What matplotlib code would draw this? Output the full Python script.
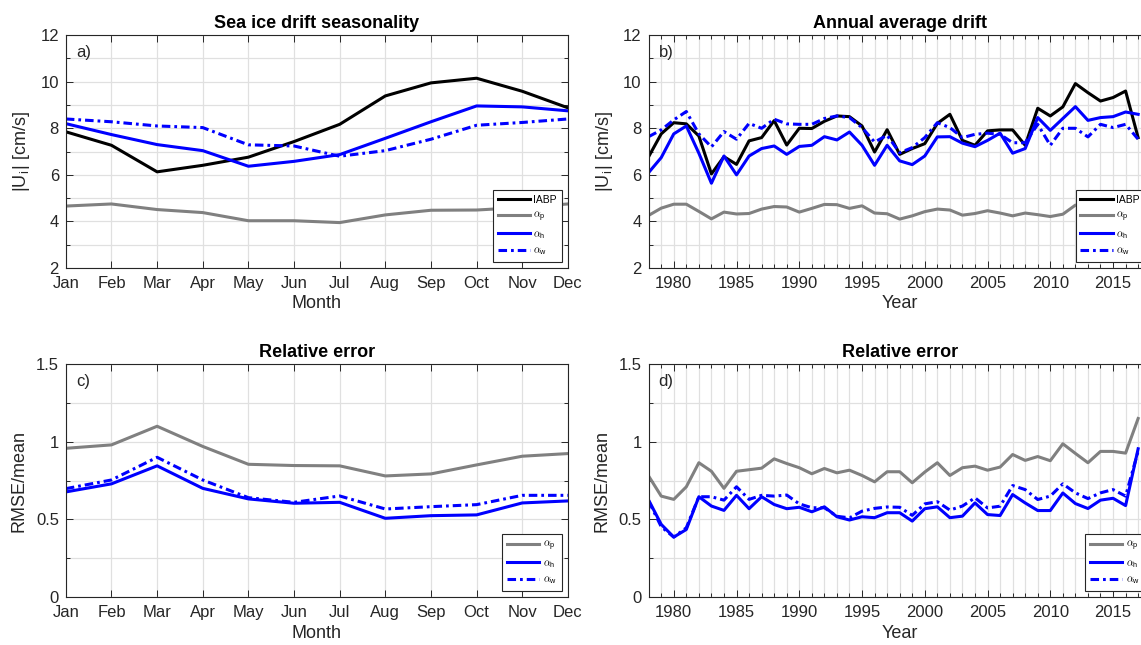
import numpy as np
import matplotlib
matplotlib.use("Agg")
import matplotlib.pyplot as plt
from matplotlib.ticker import MultipleLocator

# monthly climatology (panel a / c)
months = ["Jan", "Feb", "Mar", "Apr", "May", "Jun", "Jul", "Aug", "Sep", "Oct", "Nov", "Dec"]
mon_iabp = [7.85, 7.27, 6.13, 6.41, 6.76, 7.43, 8.17, 9.39, 9.95, 10.15, 9.59, 8.88]
mon_ap = [4.66, 4.75, 4.51, 4.38, 4.03, 4.03, 3.95, 4.28, 4.48, 4.49, 4.60, 4.75]
mon_ah = [8.20, 7.73, 7.30, 7.04, 6.37, 6.58, 6.87, 7.57, 8.28, 8.96, 8.92, 8.75]
mon_aw = [8.40, 8.28, 8.10, 8.03, 7.29, 7.24, 6.80, 7.04, 7.53, 8.13, 8.25, 8.40]

err_mon_ap = [0.958, 0.980, 1.100, 0.970, 0.855, 0.847, 0.845, 0.780, 0.793, 0.851, 0.907, 0.924]
err_mon_ah = [0.677, 0.729, 0.845, 0.700, 0.632, 0.604, 0.610, 0.507, 0.524, 0.529, 0.606, 0.619]
err_mon_aw = [0.698, 0.754, 0.900, 0.754, 0.640, 0.610, 0.651, 0.567, 0.582, 0.595, 0.655, 0.655]

# annual means 1978-2017 (panel b / d)
years = np.arange(1978, 2018)
yr_iabp = [6.78, 7.76, 8.24, 8.19, 7.67, 6.04, 6.78, 6.45, 7.46, 7.60,
           8.33, 7.28, 8.00, 7.99, 8.30, 8.53, 8.50, 8.10, 6.98, 7.94,
           6.88, 7.13, 7.34, 8.21, 8.60, 7.48, 7.27, 7.89, 7.93, 7.93,
           7.27, 8.86, 8.53, 8.92, 9.92, 9.53, 9.17, 9.32, 9.60, 7.60]
yr_ap = [4.26, 4.57, 4.74, 4.74, 4.43, 4.11, 4.40, 4.32, 4.34, 4.53,
         4.64, 4.62, 4.40, 4.56, 4.73, 4.72, 4.56, 4.67, 4.36, 4.33,
         4.10, 4.24, 4.42, 4.53, 4.49, 4.27, 4.34, 4.46, 4.36, 4.24,
         4.36, 4.29, 4.21, 4.31, 4.70, 4.60, 4.55, 4.50, 4.60, 4.55]
yr_ah = [6.10, 6.74, 7.76, 8.10, 6.93, 5.64, 6.81, 6.00, 6.81, 7.13,
         7.24, 6.88, 7.22, 7.27, 7.64, 7.50, 7.84, 7.27, 6.41, 7.27,
         6.60, 6.44, 6.81, 7.63, 7.64, 7.36, 7.21, 7.48, 7.79, 6.93,
         7.13, 8.46, 7.91, 8.42, 8.93, 8.34, 8.46, 8.50, 8.70, 8.60]
yr_aw = [7.64, 7.93, 8.36, 8.72, 7.76, 7.20, 7.86, 7.53, 8.21, 8.00,
         8.39, 8.19, 8.17, 8.17, 8.42, 8.53, 8.46, 8.03, 7.41, 7.70,
         6.95, 7.17, 7.60, 8.24, 8.03, 7.60, 7.74, 7.79, 7.74, 7.38,
         7.38, 8.17, 7.27, 8.00, 8.00, 7.63, 8.17, 8.03, 8.17, 7.53]

err_yr_ap = [0.779, 0.650, 0.629, 0.710, 0.865, 0.810, 0.700, 0.810, 0.820, 0.830,
             0.890, 0.860, 0.833, 0.794, 0.828, 0.800, 0.817, 0.783, 0.742, 0.807,
             0.807, 0.736, 0.805, 0.865, 0.783, 0.833, 0.843, 0.817, 0.837, 0.918,
             0.880, 0.905, 0.878, 0.987, 0.925, 0.865, 0.938, 0.938, 0.927, 1.150]
err_yr_ah = [0.624, 0.468, 0.386, 0.435, 0.646, 0.586, 0.558, 0.655, 0.569, 0.646,
             0.596, 0.569, 0.578, 0.549, 0.581, 0.517, 0.496, 0.517, 0.511, 0.543,
             0.543, 0.489, 0.569, 0.581, 0.511, 0.521, 0.606, 0.531, 0.525, 0.660,
             0.606, 0.557, 0.557, 0.670, 0.602, 0.570, 0.624, 0.636, 0.589, 0.955]
err_yr_aw = [0.618, 0.453, 0.386, 0.446, 0.646, 0.646, 0.624, 0.710, 0.629, 0.655,
             0.650, 0.657, 0.600, 0.575, 0.575, 0.520, 0.510, 0.553, 0.571, 0.580,
             0.578, 0.526, 0.600, 0.614, 0.560, 0.586, 0.639, 0.574, 0.585, 0.718,
             0.692, 0.628, 0.650, 0.729, 0.671, 0.634, 0.671, 0.692, 0.650, 0.940]

AX_COL = "#262626"
GRID_COL = "#e0e0e0"
GRAY = "#808080"
DASHDOT = (0, (2.8, 1.3, 0.9, 1.3))
LW = 2.2


def style_axes(ax, panel):
    ax.set_axisbelow(True)
    ax.grid(True, which="both", color=GRID_COL, linewidth=0.9)
    ax.tick_params(which="both", direction="in", top=True, right=True,
                   colors=AX_COL, labelsize=12)
    ax.tick_params(axis="x", which="both", pad=6)
    ax.tick_params(axis="y", which="both", pad=5)
    ax.tick_params(which="major", length=5, width=0.7)
    ax.tick_params(which="minor", length=3, width=0.7)
    for s in ax.spines.values():
        s.set_color(AX_COL)
        s.set_linewidth(0.8)
    ax.text(0.02, 0.925, panel, transform=ax.transAxes, fontsize=12,
            color=AX_COL, va="center", ha="left")


def add_legend(ax):
    leg = ax.legend(loc="lower right", fontsize=7.5, handlelength=3.1,
                    handletextpad=0.35, labelspacing=0.45, borderpad=0.45,
                    borderaxespad=0.6, fancybox=False, framealpha=1,
                    edgecolor=AX_COL)
    leg.get_frame().set_linewidth(0.8)


def main():
    plt.rcParams["font.family"] = ["Liberation Sans", "DejaVu Sans"]
    plt.rcParams["mathtext.fontset"] = "cm"

    fig = plt.figure(figsize=(11.41, 6.45), dpi=100)
    w, h = 0.44, 0.361
    ax_a = fig.add_axes([0.0577, 0.5845, w, h])
    ax_b = fig.add_axes([0.5685, 0.5845, w, h])
    ax_c = fig.add_axes([0.0577, 0.0744, w, h])
    ax_d = fig.add_axes([0.5685, 0.0744, w, h])

    mon = np.arange(1, 13)
    lab_p = r"$\alpha_\mathregular{p}$"
    lab_h = r"$\alpha_\mathregular{h}$"
    lab_w = r"$\alpha_\mathregular{w}$"
    ylab_u = r"|U$_\mathregular{i}$| [cm/s]"

    # a) seasonality
    ax = ax_a
    ax.plot(mon, mon_iabp, color="k", lw=LW, label="IABP")
    ax.plot(mon, mon_ap, color=GRAY, lw=LW, label=lab_p)
    ax.plot(mon, mon_ah, color="b", lw=LW, label=lab_h)
    ax.plot(mon, mon_aw, color="b", lw=LW, linestyle=DASHDOT, label=lab_w)
    ax.set_xlim(1, 12)
    ax.set_ylim(2, 12)
    ax.set_xticks(mon)
    ax.set_xticklabels(months)
    ax.yaxis.set_major_locator(MultipleLocator(2))
    ax.yaxis.set_minor_locator(MultipleLocator(1))
    ax.set_title("Sea ice drift seasonality", fontsize=13, fontweight="bold", pad=5)
    ax.set_xlabel("Month", fontsize=13, color=AX_COL, labelpad=3)
    ax.set_ylabel(ylab_u, fontsize=13, color=AX_COL, labelpad=6)
    style_axes(ax, "a)")
    add_legend(ax)

    # b) annual
    ax = ax_b
    ax.plot(years, yr_iabp, color="k", lw=LW, label="IABP")
    ax.plot(years, yr_ap, color=GRAY, lw=LW, label=lab_p)
    ax.plot(years, yr_ah, color="b", lw=LW, label=lab_h)
    ax.plot(years, yr_aw, color="b", lw=LW, linestyle=DASHDOT, label=lab_w)
    ax.set_xlim(1978, 2018)
    ax.set_ylim(2, 12)
    ax.xaxis.set_major_locator(MultipleLocator(5))
    ax.xaxis.set_minor_locator(MultipleLocator(1))
    ax.yaxis.set_major_locator(MultipleLocator(2))
    ax.yaxis.set_minor_locator(MultipleLocator(1))
    ax.set_title("Annual average drift", fontsize=13, fontweight="bold", pad=5)
    ax.set_xlabel("Year", fontsize=13, color=AX_COL, labelpad=3)
    ax.set_ylabel(ylab_u, fontsize=13, color=AX_COL, labelpad=6)
    style_axes(ax, "b)")
    add_legend(ax)

    # c) monthly error
    ax = ax_c
    ax.plot(mon, err_mon_ap, color=GRAY, lw=LW, label=lab_p)
    ax.plot(mon, err_mon_ah, color="b", lw=LW, label=lab_h)
    ax.plot(mon, err_mon_aw, color="b", lw=LW, linestyle=DASHDOT, label=lab_w)
    ax.set_xlim(1, 12)
    ax.set_ylim(0, 1.5)
    ax.set_xticks(mon)
    ax.set_xticklabels(months)
    ax.set_yticks([0, 0.5, 1, 1.5])
    ax.set_yticklabels(["0", "0.5", "1", "1.5"])
    ax.yaxis.set_minor_locator(MultipleLocator(0.25))
    ax.set_title("Relative error", fontsize=13, fontweight="bold", pad=5)
    ax.set_xlabel("Month", fontsize=13, color=AX_COL, labelpad=3)
    ax.set_ylabel("RMSE/mean", fontsize=13, color=AX_COL, labelpad=6)
    style_axes(ax, "c)")
    add_legend(ax)

    # d) annual error
    ax = ax_d
    ax.plot(years, err_yr_ap, color=GRAY, lw=LW, label=lab_p)
    ax.plot(years, err_yr_ah, color="b", lw=LW, label=lab_h)
    ax.plot(years, err_yr_aw, color="b", lw=LW, linestyle=DASHDOT, label=lab_w)
    ax.set_xlim(1978, 2018)
    ax.set_ylim(0, 1.5)
    ax.xaxis.set_major_locator(MultipleLocator(5))
    ax.xaxis.set_minor_locator(MultipleLocator(1))
    ax.set_yticks([0, 0.5, 1, 1.5])
    ax.set_yticklabels(["0", "0.5", "1", "1.5"])
    ax.yaxis.set_minor_locator(MultipleLocator(0.25))
    ax.set_title("Relative error", fontsize=13, fontweight="bold", pad=5)
    ax.set_xlabel("Year", fontsize=13, color=AX_COL, labelpad=3)
    ax.set_ylabel("RMSE/mean", fontsize=13, color=AX_COL, labelpad=6)
    style_axes(ax, "d)")
    add_legend(ax)

    fig.savefig("out.png", dpi=100)


if __name__ == "__main__":
    main()
